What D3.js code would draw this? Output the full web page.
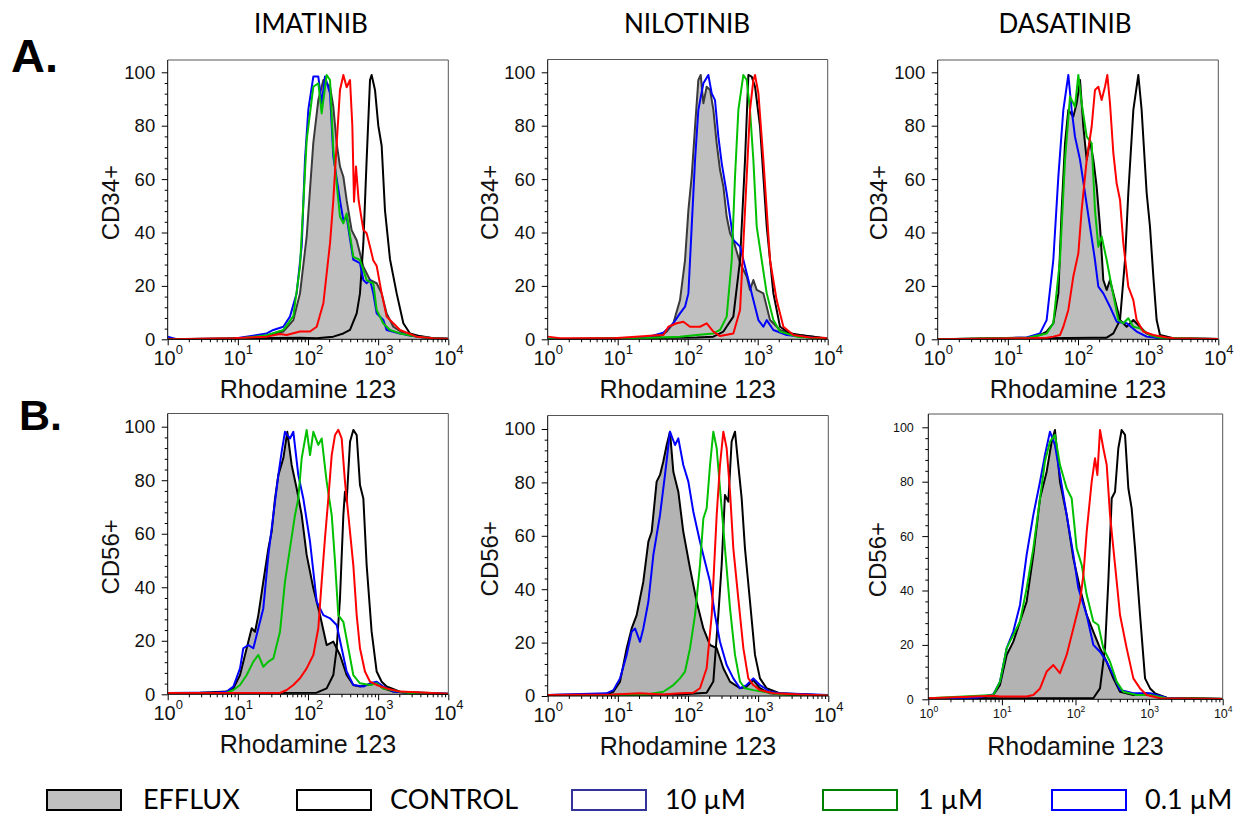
<!DOCTYPE html>
<html><head><meta charset="utf-8">
<script src="https://cdn.jsdelivr.net/npm/d3@7"></script>
<style>body{margin:0;background:#fff}svg{display:block}</style>
</head><body><svg id="chart" width="1240" height="819"></svg>
<script>
// ---------- labels ----------
const drugs = ["IMATINIB", "NILOTINIB", "DASATINIB"];
const rowLabels = ["A.", "B."];
const markers = ["CD34+", "CD56+"];
const xLabel = "Rhodamine 123";
const xTickExponents = [0, 1, 2, 3, 4];
const yTickValues = [0, 20, 40, 60, 80, 100];
const legendLabels = ["EFFLUX", "CONTROL", "10 µM", "1 µM", "0.1 µM"];

// ---------- data: [log10(Rhodamine 123), % of max] ----------
// A. CD34+  IMATINIB
const imaCD34Efflux = [[0,0],[1.173,0.4],[1.411,1.2],[1.648,2.9],[1.791,7.2],[1.886,17.2],[1.981,38.5],[2.076,73.7],[2.147,89.6],[2.219,97.1],[2.314,94.6],[2.361,87.1],[2.409,73.4],[2.456,64.7],[2.504,60.9],[2.551,52.1],[2.622,40.9],[2.694,37.1],[2.789,27.2],[2.884,22.2],[2.979,21.0],[3.05,17.2],[3.121,9.7],[3.216,4.7],[3.406,1.6],[3.691,0.6],[4,0.2]];
const imaCD34Control = [[0,0],[1.886,0.6],[2.124,0.4],[2.361,1.0],[2.504,2.2],[2.599,3.5],[2.694,9.7],[2.741,17.2],[2.789,36.0],[2.836,67.2],[2.884,97.1],[2.907,99.0],[2.955,93.4],[3.002,80.0],[3.05,72.5],[3.097,48.4],[3.169,30.0],[3.264,17.2],[3.359,6.0],[3.454,2.2],[3.596,1.2],[3.786,0.4],[4,0.1]];
const imaCD34Dose10 = [[0,0],[0.936,0.4],[1.411,1.0],[1.601,2.0],[1.696,1.6],[1.886,2.9],[2.029,2.9],[2.124,4.7],[2.219,13.5],[2.314,36.0],[2.361,52.1],[2.409,73.4],[2.456,93.4],[2.504,99.0],[2.551,94.4],[2.599,97.1],[2.632,80],[2.656,51.5],[2.684,64.7],[2.722,52],[2.789,41.0],[2.836,39.7],[2.884,34.7],[2.931,29.5],[2.979,27.5],[3.05,17.2],[3.121,8.5],[3.216,6.0],[3.311,3.5],[3.549,1.0],[3.786,0.4],[4,0.2]];
const imaCD34Dose1 = [[0,0],[0.936,0.1],[1.411,1.5],[1.648,3.5],[1.791,8.7],[1.886,27.2],[1.981,74.6],[2.076,94.6],[2.147,95.9],[2.195,84.6],[2.266,99.0],[2.314,97.1],[2.361,70.9],[2.456,45.9],[2.504,43.4],[2.551,47.1],[2.646,30.9],[2.741,29.7],[2.836,22.2],[2.931,20.9],[2.979,11.0],[3.074,5.9],[3.169,3.5],[3.311,2.2],[3.549,1.0],[3.786,0.4],[4,0.2]];
const imaCD34Dose01 = [[0,1],[0.128,0],[0.936,0.2],[1.411,2.2],[1.506,3.5],[1.648,4.7],[1.743,8.5],[1.838,17.2],[1.91,34.8],[1.957,67.2],[2.005,86.1],[2.076,98.4],[2.147,98.4],[2.195,88.4],[2.242,98.4],[2.314,92.1],[2.361,68.4],[2.456,52.1],[2.504,44.6],[2.551,45.9],[2.599,37.5],[2.646,29.8],[2.741,28.5],[2.789,22.2],[2.836,21.0],[2.884,22.2],[2.931,17.2],[2.979,9.7],[3.074,7.2],[3.121,3.5],[3.311,2.2],[3.549,1.0],[3.786,0.4],[4,0.2]];
// A. CD34+  NILOTINIB
const nilCD34Efflux = [[0,0],[1.176,0.4],[1.414,0.7],[1.605,1.2],[1.7,2.9],[1.795,6],[1.89,14.7],[1.962,29.7],[2.01,48.4],[2.057,61],[2.105,79.7],[2.152,97.1],[2.186,99],[2.224,88.4],[2.271,94.6],[2.319,93.4],[2.367,85.9],[2.414,73.4],[2.462,63.4],[2.51,57.2],[2.557,45.9],[2.605,39.7],[2.652,37.2],[2.748,28.5],[2.843,23.5],[2.89,18.5],[2.938,22.2],[2.986,18.5],[3.081,17.2],[3.176,7.2],[3.319,3.5],[3.557,1.6],[3.795,1],[4,0.2]];
const nilCD34Control = [[0,0],[1.414,0.5],[2.129,0.7],[2.367,1.0],[2.51,2.9],[2.652,8.5],[2.748,29.7],[2.819,67.2],[2.867,99],[2.914,98.4],[2.962,94.6],[3.033,79.7],[3.081,61],[3.129,42.2],[3.224,17.2],[3.319,4.7],[3.462,2.2],[3.605,1.6],[3.795,1.0],[4,0.2]];
const nilCD34Dose10 = [[0,1.0],[0.176,0.4],[0.938,0.4],[1.414,1.2],[1.557,1.5],[1.652,1.6],[1.724,4.7],[1.843,6.0],[1.938,6.6],[2.033,4.7],[2.176,4.7],[2.271,6.0],[2.367,2.9],[2.462,1.2],[2.652,2.2],[2.748,11],[2.819,48.4],[2.89,85.9],[2.938,97.1],[2.962,99],[3.01,92.1],[3.081,67.2],[3.129,48.4],[3.176,29.7],[3.271,14.7],[3.367,4.7],[3.51,1.6],[3.748,0.7],[3.938,0.6],[4,0.2]];
const nilCD34Dose1 = [[0,0],[1.414,0.5],[1.89,1.0],[2.129,1.6],[2.367,2.2],[2.462,3.5],[2.557,8.5],[2.629,29.7],[2.676,61],[2.724,85.9],[2.795,99],[2.843,97.1],[2.89,85.9],[2.938,67.2],[2.986,42.2],[3.057,29.7],[3.129,17.2],[3.224,7.2],[3.319,2.9],[3.557,1],[3.795,0.5],[4,0.2]];
const nilCD34Dose01 = [[0,0],[0.938,0.2],[1.414,0.7],[1.652,2.5],[1.795,6],[1.89,9.7],[1.962,12.2],[2.01,17.2],[2.057,42.2],[2.105,67.2],[2.152,85.9],[2.224,95.9],[2.295,99],[2.343,92.1],[2.39,89.6],[2.438,75.9],[2.486,65.9],[2.557,54.7],[2.652,37.2],[2.748,34.7],[2.843,24.7],[2.938,14.7],[3.01,7.2],[3.081,4.7],[3.129,7.2],[3.224,3.5],[3.414,1.6],[3.795,0.6],[4,0.2]];
// A. CD34+  DASATINIB
const dasCD34Efflux = [[0,0],[0.793,0.4],[1.268,0.6],[1.458,1.6],[1.553,2.9],[1.648,6],[1.72,17.2],[1.767,48.4],[1.815,73.4],[1.862,85.9],[1.933,83.4],[1.981,88.4],[2.029,97.1],[2.076,79.7],[2.124,67.2],[2.171,74.6],[2.219,67.2],[2.266,57.2],[2.314,42.2],[2.361,22.2],[2.409,18.5],[2.456,22.2],[2.504,17.2],[2.599,7.2],[2.694,4.7],[2.789,7.2],[2.884,4.7],[2.979,2.2],[3.121,0.6],[3.406,0.2],[4,0.1]];
const dasCD34Control = [[0,0],[0.793,0.2],[2.219,0.6],[2.409,0.6],[2.504,2.2],[2.599,7.2],[2.67,29.7],[2.717,54.7],[2.789,85.9],[2.86,99],[2.907,85.9],[2.979,54.7],[3.026,42.2],[3.074,23.5],[3.121,7.2],[3.169,1.6],[3.359,0.4],[4,0.1]];
const dasCD34Dose10 = [[0,0],[1.268,0.4],[1.553,0.6],[1.648,1.0],[1.743,1.6],[1.791,4.7],[1.862,11],[1.933,23.5],[2.005,32.2],[2.052,48.4],[2.124,67.2],[2.195,79.7],[2.242,93.4],[2.29,94.6],[2.337,89.6],[2.385,94.6],[2.418,99],[2.456,88.4],[2.504,69.7],[2.551,58.4],[2.599,52.2],[2.646,36],[2.717,19.7],[2.789,14.7],[2.836,7.2],[2.931,2.9],[3.074,1.6],[3.264,0.7],[3.359,0.4],[4,0.1]];
const dasCD34Dose1 = [[0,0],[1.268,0.5],[1.553,2.2],[1.648,6],[1.743,29.7],[1.815,67.2],[1.886,90.9],[1.957,87.1],[2.005,99],[2.052,88.4],[2.124,75.9],[2.195,73.4],[2.242,48.4],[2.29,34.7],[2.337,38.5],[2.409,29.7],[2.48,19.7],[2.575,7.2],[2.646,6],[2.717,7.9],[2.789,4.7],[2.884,4.1],[3.026,1.6],[3.169,0.6],[4,0.1]];
const dasCD34Dose01 = [[0,0],[0.793,0.2],[1.268,0.7],[1.458,2.2],[1.553,7.2],[1.648,29.7],[1.72,61],[1.791,85.9],[1.862,99],[1.91,85.9],[1.957,75.9],[2.029,67.2],[2.1,54.7],[2.171,42.2],[2.242,29.7],[2.29,19.7],[2.361,17.2],[2.456,12.2],[2.551,6.6],[2.694,6],[2.836,2.9],[2.979,1.0],[3.169,0.4],[4,0.1]];
// B. CD56+  IMATINIB
const imaCD56Efflux = [[0,0.5],[0.461,0.6],[0.841,1.0],[0.936,2.2],[1.031,7.2],[1.126,17.2],[1.197,24.7],[1.245,23.4],[1.292,29.6],[1.363,42.1],[1.435,54.5],[1.482,60.8],[1.53,73.2],[1.577,81.9],[1.648,88.2],[1.705,98.1],[1.767,85.7],[1.838,77],[1.91,67],[1.981,52.1],[2.076,39.6],[2.171,29.6],[2.266,18.4],[2.361,19.7],[2.456,14.7],[2.551,7.2],[2.646,3.5],[2.741,2.9],[2.836,3.5],[2.979,4.1],[3.074,2.2],[3.216,1.0],[3.549,0.2],[4,0.1]];
const imaCD56Control = [[0,0.5],[0.936,0.5],[2.124,0.6],[2.266,2.2],[2.361,7.2],[2.409,17.2],[2.456,35.9],[2.504,67],[2.527,75.7],[2.551,72],[2.599,94.4],[2.646,98.8],[2.694,96.9],[2.741,78.2],[2.789,73.2],[2.836,48.3],[2.907,23.4],[2.979,8.5],[3.05,4.7],[3.121,2.9],[3.311,1.0],[4,0.2]];
const imaCD56Dose10 = [[0,0.5],[0.936,0.5],[1.601,0.5],[1.696,1.6],[1.791,3.5],[1.886,6],[1.981,9.7],[2.076,14.7],[2.147,24.7],[2.195,42.1],[2.242,58.3],[2.29,73.2],[2.338,89.4],[2.385,96.9],[2.432,98.8],[2.48,95.6],[2.527,79.5],[2.575,67],[2.646,48.3],[2.694,29.6],[2.741,17.2],[2.812,8.5],[2.884,4.7],[2.979,3.5],[3.121,2.2],[3.311,1.0],[3.691,0.6],[4,0.2]];
const imaCD56Dose1 = [[0,0.5],[0.841,0.6],[0.936,1.6],[1.031,3.5],[1.126,7.2],[1.221,12.2],[1.292,14.7],[1.363,10.3],[1.435,12.2],[1.506,13.4],[1.601,23.4],[1.672,42.1],[1.743,54.5],[1.815,67],[1.862,73.2],[1.91,88.2],[1.981,98.8],[2.029,89.4],[2.076,98.1],[2.147,93.2],[2.195,95.6],[2.266,79.5],[2.338,67],[2.385,49.6],[2.432,29.6],[2.504,27.1],[2.575,17.2],[2.646,7.2],[2.741,4.1],[2.884,3.5],[2.979,4.1],[3.074,2.2],[3.311,1.0],[3.549,0],[4,0]];
const imaCD56Dose01 = [[0,0.5],[0.698,0.7],[0.841,1.0],[0.936,2.9],[1.031,9.7],[1.078,17.2],[1.15,18.4],[1.221,17.2],[1.292,24.7],[1.363,32.1],[1.435,52.1],[1.506,67],[1.577,81.9],[1.625,90.7],[1.672,98.1],[1.743,95.6],[1.791,98.1],[1.862,81.9],[1.933,73.2],[2.029,57],[2.124,34.6],[2.219,29.6],[2.314,28.4],[2.409,25.9],[2.48,17.2],[2.551,8.5],[2.646,3.5],[2.789,2.9],[2.884,4.1],[2.979,4.7],[3.074,2.9],[3.216,1.0],[3.549,0.4],[4,0.2]];
// B. CD56+  NILOTINIB
const nilCD56Efflux = [[0,0.4],[0.841,0.6],[0.936,1.6],[1.031,5.4],[1.126,17.9],[1.197,25.3],[1.268,30.3],[1.363,42.8],[1.435,57.8],[1.482,61.5],[1.553,80.3],[1.601,82.8],[1.648,87.8],[1.696,94],[1.743,99],[1.791,84],[1.862,76.5],[1.933,61.5],[2.029,47.8],[2.124,35.3],[2.219,25.3],[2.314,19.1],[2.409,17.9],[2.504,10.4],[2.599,5.4],[2.741,2.9],[2.836,3.5],[2.931,6.0],[3.026,2.9],[3.169,1.0],[3.549,0.4],[4,0.2]];
const nilCD56Control = [[0,0.4],[1.886,0.6],[2.266,1.2],[2.361,5.4],[2.432,30.3],[2.48,49.1],[2.527,75.3],[2.575,72.8],[2.622,95.3],[2.67,99],[2.717,86.5],[2.765,74],[2.812,55.3],[2.884,35.3],[2.955,15.4],[3.026,6.6],[3.121,2.9],[3.311,1.0],[4,0.2]];
const nilCD56Dose10 = [[0,0.4],[0.936,0.6],[1.316,1.0],[1.648,0.6],[1.886,1.0],[2.076,1.2],[2.171,2.9],[2.266,10.4],[2.338,30.3],[2.409,67.8],[2.456,86.5],[2.504,99],[2.551,92.8],[2.599,76.5],[2.646,55.3],[2.717,36.6],[2.789,17.9],[2.86,6.6],[2.931,4.1],[3.026,2.2],[3.216,1.0],[3.596,0.6],[4,0.2]];
const nilCD56Dose1 = [[0,0.2],[0.27,0],[1.411,0.6],[1.648,1.6],[1.791,4.1],[1.886,6.6],[1.957,9.1],[2.029,17.9],[2.1,30.3],[2.171,49.1],[2.219,66.5],[2.266,70.3],[2.314,86.5],[2.361,99],[2.409,92.8],[2.456,77.8],[2.527,55.3],[2.599,32.8],[2.67,15.4],[2.741,5.4],[2.812,2.9],[2.931,2.2],[3.074,1.6],[3.311,0.6],[4,0.2]];
const nilCD56Dose01 = [[0,0.4],[0.841,1.0],[0.936,2.2],[1.031,6.6],[1.126,15.4],[1.197,24.1],[1.245,25.3],[1.316,20.3],[1.363,25.3],[1.435,35.3],[1.506,52.8],[1.601,67.8],[1.672,82.8],[1.743,99],[1.815,94],[1.862,96.5],[1.933,86.5],[2.005,80.3],[2.076,69],[2.171,57.8],[2.242,50.3],[2.314,42.8],[2.385,30.3],[2.456,20.3],[2.551,11.6],[2.646,6.6],[2.741,2.9],[2.836,4.1],[2.931,6.6],[3.026,4.1],[3.169,1.6],[3.311,1.0],[4,0.4]];
// B. CD56+  DASATINIB
const dasCD56Efflux = [[0,0.4],[0.657,0.4],[0.883,1.6],[0.974,5.3],[1.065,16.3],[1.155,21.2],[1.246,28.6],[1.336,35.9],[1.427,53.1],[1.518,73.9],[1.608,83.7],[1.676,94.7],[1.721,99],[1.789,80],[1.88,67.8],[1.971,51.8],[2.061,40.8],[2.152,31],[2.242,24.9],[2.333,18.8],[2.424,13.8],[2.514,7.7],[2.605,2.8],[2.786,1.6],[2.967,2.2],[3.058,1.6],[3.239,0.4],[4,0.2]];
const dasCD56Control = [[0,0.4],[2.242,0.4],[2.333,4.0],[2.401,18.8],[2.446,43.3],[2.492,73.9],[2.537,76.3],[2.582,92.3],[2.627,99],[2.673,97.2],[2.718,77.6],[2.763,70.2],[2.809,55.5],[2.877,31],[2.945,7.7],[3.013,4.0],[3.08,2.2],[3.239,0.6],[4,0.1]];
const dasCD56Dose10 = [[0,0.4],[0.657,1.0],[0.883,1.3],[0.974,1.0],[1.336,1.0],[1.427,1.6],[1.518,4.0],[1.608,10.2],[1.699,12.6],[1.789,9.6],[1.88,16.3],[1.971,26.1],[2.061,35.9],[2.107,45.7],[2.152,61.6],[2.22,80],[2.265,88.6],[2.297,82.5],[2.333,99],[2.378,92.3],[2.424,86.2],[2.469,67.8],[2.537,49.4],[2.605,31],[2.695,18.8],[2.786,7.7],[2.877,4.0],[2.967,1.6],[3.148,0.4],[4,0.1]];
const dasCD56Dose1 = [[0,0.4],[0.883,1.6],[0.974,6.5],[1.065,18.8],[1.155,23.7],[1.246,28.6],[1.336,40.8],[1.427,55.5],[1.518,73.9],[1.585,87.4],[1.653,94.7],[1.721,97.2],[1.789,86.2],[1.88,77.6],[1.948,73.9],[2.016,55.5],[2.084,49.4],[2.152,38.4],[2.242,28.6],[2.31,27.3],[2.378,18.8],[2.469,13.8],[2.559,6.5],[2.65,2.8],[2.831,1.6],[3.013,1.6],[3.239,0.4],[4,0.1]];
const dasCD56Dose01 = [[0,0.4],[0.657,0.6],[0.883,1.8],[0.974,6.5],[1.065,18.8],[1.155,24.9],[1.246,34.7],[1.336,53.1],[1.427,67.8],[1.518,80],[1.585,89.8],[1.653,98.4],[1.721,93.5],[1.789,82.5],[1.88,67.8],[1.971,53.1],[2.039,40.8],[2.152,31],[2.242,20],[2.333,17.5],[2.424,13.8],[2.514,8.9],[2.605,3.4],[2.786,2.2],[3.013,2.2],[3.239,0.6],[3.601,0.1],[4,0.1]];

// ---------- layout & style ----------
const colors = {control: "#000", dose10: "#ff0000", dose1: "#00c000", dose01: "#0000ff"};
const legendColors = ["#000", "#000", "#33339a", "#008000", "#0000ff"];
const panels = [
  {row:0, x0:167.7, x1:448.3, top:60,    y0:339.3, y100:72.3,  cx:110, small:false, outline:"#3a3a3a", fill:"#c0c0c0",
   s:{efflux:imaCD34Efflux, control:imaCD34Control, dose10:imaCD34Dose10, dose1:imaCD34Dose1, dose01:imaCD34Dose01}},
  {row:0, x0:547.7, x1:827.7, top:59.5,  y0:339.3, y100:72.3,  cx:489, small:false, outline:"#3a3a3a", fill:"#c0c0c0",
   s:{efflux:nilCD34Efflux, control:nilCD34Control, dose10:nilCD34Dose10, dose1:nilCD34Dose1, dose01:nilCD34Dose01}},
  {row:0, x0:937.7, x1:1218.3, top:60,   y0:339.3, y100:72.3,  cx:878, small:false, outline:"#000", fill:"#bdbdbd",
   s:{efflux:dasCD34Efflux, control:dasCD34Control, dose10:dasCD34Dose10, dose1:dasCD34Dose1, dose01:dasCD34Dose01}},
  {row:1, x0:167.7, x1:448.3, top:413.5, y0:694.3, y100:426.7, cx:110, small:false, outline:"#000", fill:"#b3b3b3",
   s:{efflux:imaCD56Efflux, control:imaCD56Control, dose10:imaCD56Dose10, dose1:imaCD56Dose1, dose01:imaCD56Dose01}},
  {row:1, x0:547.7, x1:828.3, top:415.5, y0:696,   y100:429,   cx:489, small:false, outline:"#000", fill:"#b3b3b3",
   s:{efflux:nilCD56Efflux, control:nilCD56Control, dose10:nilCD56Dose10, dose1:nilCD56Dose1, dose01:nilCD56Dose01}},
  {row:1, x0:928.3, x1:1222.7, top:414,  y0:699.3, y100:427.3, cx:877, small:true,  outline:"#000", fill:"#b3b3b3",
   s:{efflux:dasCD56Efflux, control:dasCD56Control, dose10:dasCD56Dose10, dose1:dasCD56Dose1, dose01:dasCD56Dose01}}
];

const svg = d3.select("#chart");
const SANS = "'Liberation Sans', Arial, sans-serif";
const TITLE = "Lato, 'Open Sans', sans-serif";

// Column titles
const titleX = [311, 687, 1065];
drugs.forEach((d, i) => svg.append("text").attr("x", titleX[i]).attr("y", 33)
  .attr("text-anchor", "middle").attr("font-family", TITLE).attr("font-size", 26).text(d));
// Row labels
svg.append("text").attr("x", 11).attr("y", 72).attr("font-family", SANS).attr("font-weight", "bold").attr("font-size", 47).text(rowLabels[0]);
svg.append("text").attr("x", 19).attr("y", 430).attr("font-family", SANS).attr("font-weight", "bold").attr("font-size", 43).text(rowLabels[1]);

const minorX = [];
for (let e = 0; e < 4; e++) for (let m = 2; m <= 9; m++) minorX.push(m * Math.pow(10, e));
const minorY = d3.range(0, 101, 4).filter(v => v % 20 !== 0);

panels.forEach((p, idx) => {
  const g = svg.append("g");
  const x = d3.scaleLog().domain([1, 1e4]).range([p.x0, p.x1]);
  const y = d3.scaleLinear().domain([0, 100]).range([p.y0, p.y100]);
  const clipId = "clip" + idx;
  g.append("clipPath").attr("id", clipId).append("rect")
    .attr("x", p.x0).attr("y", p.top).attr("width", p.x1 - p.x0).attr("height", p.y0 - p.top);
  const plot = g.append("g").attr("clip-path", `url(#${clipId})`);
  const xv = d => x(Math.pow(10, d[0]));
  const area = d3.area().x(xv).y0(y(0)).y1(d => y(d[1]));
  const line = d3.line().x(xv).y(d => y(d[1]));
  plot.append("path").datum(p.s.efflux).attr("d", area).attr("fill", p.fill);
  plot.append("path").datum(p.s.efflux).attr("d", line).attr("fill", "none").attr("stroke", p.outline)
    .attr("stroke-width", 2).attr("stroke-linejoin", "round");
  ["control", "dose01", "dose1", "dose10"].forEach(k => {
    plot.append("path").datum(p.s[k]).attr("d", line).attr("fill", "none")
      .attr("stroke", colors[k]).attr("stroke-width", 2).attr("stroke-linejoin", "round");
  });
  // frame (top and right)
  g.append("path").attr("d", `M${p.x0},${p.top}H${p.x1}V${p.y0}`).attr("fill", "none").attr("stroke", "#555").attr("stroke-width", 1);

  const yFont = p.small ? 12.5 : 18.5;
  const xFont = p.small ? 12.5 : 20;
  // y axis
  const ya = g.append("g").attr("transform", `translate(${p.x0},0)`)
    .call(d3.axisLeft(y).tickValues(yTickValues).tickSize(6).tickSizeOuter(0).tickPadding(p.small ? 8.5 : 6.5));
  ya.select(".domain").remove();
  ya.append("line").attr("x1", 0).attr("x2", 0).attr("y1", p.top).attr("y2", p.y0).attr("stroke", "#000");
  ya.selectAll(".tick text").attr("font-family", SANS).attr("font-size", yFont).attr("fill", "#111");
  g.append("g").attr("transform", `translate(${p.x0},0)`)
    .call(d3.axisLeft(y).tickValues(minorY).tickSize(3).tickSizeOuter(0).tickFormat(""))
    .select(".domain").remove();
  // x axis
  const xa = g.append("g").attr("transform", `translate(0,${p.y0})`)
    .call(d3.axisBottom(x).tickValues(xTickExponents.map(e => Math.pow(10, e))).tickSize(6).tickSizeOuter(0).tickFormat(""));
  xa.select(".domain").attr("d", `M${p.x0},0H${p.x1}`);
  g.append("g").attr("transform", `translate(0,${p.y0})`)
    .call(d3.axisBottom(x).tickValues(minorX).tickSize(3).tickSizeOuter(0).tickFormat(""))
    .select(".domain").remove();
  xa.selectAll(".tick").each(function(v, i) {
    const t = d3.select(this).append("text").attr("fill", "#111").attr("font-family", SANS)
      .attr("font-size", xFont).attr("text-anchor", "middle").attr("y", p.small ? 19 : 26);
    t.append("tspan").text("10");
    t.append("tspan").attr("dy", p.small ? -6 : -11).attr("font-size", p.small ? 8.5 : 13).text(String(xTickExponents[i]));
  });
  // axis labels
  svg.append("text").attr("x", (p.x0 + p.x1) / 2).attr("y", p.y0 + (p.small ? 56 : 59))
    .attr("text-anchor", "middle").attr("font-family", SANS).attr("font-size", 25).attr("fill", "#111").text(xLabel);
  svg.append("text").attr("transform", `translate(${p.cx + 9},${(p.top + p.y0) / 2 + 3}) rotate(-90)`)
    .attr("text-anchor", "middle").attr("font-family", SANS).attr("font-size", 24).attr("fill", "#111").text(markers[p.row]);
});

// Legend
const legendBoxX = [47, 297, 572, 823, 1052];
const legendTextX = [143, 390, 665, 918, 1145];
legendLabels.forEach((lab, i) => {
  svg.append("rect").attr("x", legendBoxX[i]).attr("y", 790).attr("width", 74).attr("height", 20)
    .attr("fill", i === 0 ? "#c0c0c0" : "#fff").attr("stroke", legendColors[i]).attr("stroke-width", 2);
  svg.append("text").attr("x", legendTextX[i]).attr("y", 809).attr("font-family", TITLE)
    .attr("font-size", 27).attr("fill", "#000").text(lab);
});
</script></body></html>
